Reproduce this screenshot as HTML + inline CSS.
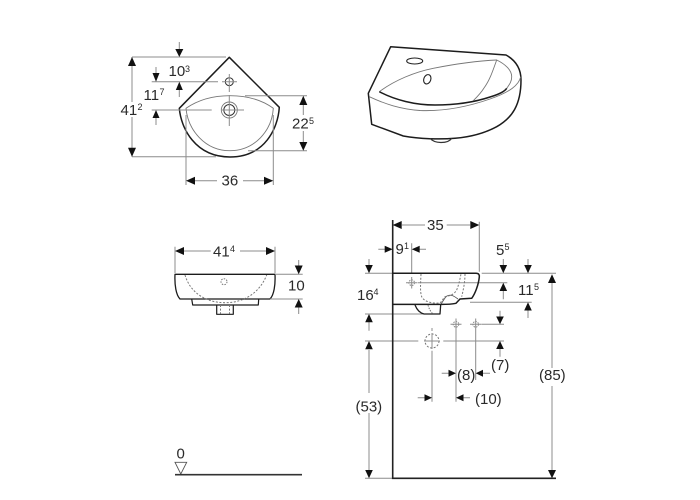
<!DOCTYPE html>
<html><head><meta charset="utf-8"><style>
html,body{margin:0;padding:0;background:#fff;width:700px;height:500px;overflow:hidden}
svg{display:block}
text{font-family:"Liberation Sans",sans-serif;font-size:15px;fill:#2a2a2a}
text.s{font-size:9px}
.d{stroke:#8c8c8c;stroke-width:1;fill:none}
.o{stroke:#1c1c1c;stroke-width:1.5;fill:none;stroke-linejoin:round}
.t{stroke:#777;stroke-width:.9;fill:none}
.h{stroke:#777;stroke-width:1;fill:none;stroke-dasharray:2 1.6}
.a{fill:#111;stroke:none}
</style></head><body>
<svg width="700" height="500" viewBox="0 0 700 500" xmlns="http://www.w3.org/2000/svg">
<!-- top view -->
<path class="o" d="M229.3 57.3L179.3 108.3C181 128 195 157 230 157C265 157 278 128 279.3 107.3Z"/>
<path class="t" d="M186 108.3C198 100 212 95.7 230 95.7C248 95.7 262 100 273.3 108.3C272 130 255 150.7 230 150.7C205 150.7 188 130 186 108.3Z"/>
<circle class="t" cx="229.3" cy="81.7" r="4" style="stroke:#333;stroke-width:1"/>
<circle class="t" cx="229.3" cy="110" r="8"/>
<circle class="t" cx="229.3" cy="110" r="5.5" style="stroke:#333;stroke-width:1"/>
<path class="d" d="M229.3 74V92M229.3 95V126M221.7 110H244M222 81.7H237M132 57H226M132 156.7H216M132 57V102M132 117V156.7M151.7 81.7H218M151.7 110H211.7M156 67V74M156 118V125M179.3 42V50M179.3 90V97M245 95.7H307M248 150.7H307M303.3 105V115M303.3 131V142M186 115V185M273.3 115V185M195 180.7H217M243 180.7H264"/>
<polygon class="a" points="179.3,57 175.3,49 183.3,49"/>
<polygon class="a" points="132,57 128,66 136,66"/><polygon class="a" points="132,156.7 128,147.7 136,147.7"/>
<polygon class="a" points="156,81.7 152.5,73 159.5,73"/><polygon class="a" points="179.3,81.7 175.8,90 182.8,90"/>
<polygon class="a" points="156,110 152.5,118 159.5,118"/>
<polygon class="a" points="303.3,95.7 299.3,105 307.3,105"/><polygon class="a" points="303.3,150.7 299.3,142 307.3,142"/>
<polygon class="a" points="186,180.7 195,176.7 195,184.7"/><polygon class="a" points="273.3,180.7 264,176.7 264,184.7"/>
<text x="168.5" y="76">10</text><text class="s" x="185" y="72">3</text>
<text x="143.5" y="100">11</text><text class="s" x="159.5" y="95">7</text>
<text x="120.5" y="115">41</text><text class="s" x="137.5" y="110">2</text>
<text x="292" y="128.5">22</text><text class="s" x="309" y="124">5</text>
<text x="221.5" y="185.7">36</text>
<!-- perspective -->
<path class="o" d="M390.7 46.7L506 55C515 60 521 68 521 80C521 105 512 118 496.7 126.7C485 133 470 137 455 138.3C440 139.5 420 139 403.3 136L371.7 124.3L368.3 93.3Z"/>
<path class="t" d="M369.3 96.7C385 104 400 109 420 110.5C445 111.5 470 106 490 99C510 92 519 85 520.7 76.7"/>
<path class="t" d="M379.3 91.7C395 80 415 72 433.3 68.3C455 64 475 61 496.7 60C505 64 511.7 70 511.7 76.7C511.7 82 509 85 506.7 88.3"/>
<path class="o" d="M379.3 91.7C395 100 415 105 435 105C455 105 475 102 490 97C500 94 505 91 506.7 88.3"/>
<path class="t" d="M496.7 60C493 70 490 80 484 88C481 93 477 97 473.3 100.7"/>
<ellipse cx="414.7" cy="61" rx="8" ry="3" fill="none" stroke="#222" stroke-width="1.1"/>
<ellipse cx="427.3" cy="79.3" rx="3.5" ry="4.8" fill="none" stroke="#222" stroke-width="1.1" transform="rotate(20 427.3 79.3)"/>
<path class="t" d="M430 138.3C433 142 437 142.5 441 142.5C446 142.5 450 141 451.7 138.3" style="stroke:#333;stroke-width:1.2"/>
<!-- front view -->
<path class="o" d="M175 274.3H275C275.5 285 274 295 270 299H180C176 295 174.5 285 175 274.3Z" style="stroke-width:1.3"/>
<path class="o" d="M191.7 299L192.7 305H258.3L258.7 299M216.7 305V314.3H233.3V305" style="stroke-width:1.2"/>
<path class="h" d="M185 275C190 292 205 302.7 225 302.7C245 302.7 260 292 266.7 275"/>
<path class="h" d="M220.5 305V314M229.5 305V314"/>
<circle class="h" cx="224" cy="281.7" r="3" style="stroke-dasharray:1.5 1.2"/>
<path class="d" d="M175 246.7V273M275 246.7V273M184 251H210.7M240 251H266M275 274.3H302.7M270 299H302.7M298.7 260V266M298.7 307V314"/>
<polygon class="a" points="175,251 184,247 184,255"/><polygon class="a" points="275,251 266,247 266,255"/>
<polygon class="a" points="298.7,274.3 294.7,265.5 302.7,265.5"/><polygon class="a" points="298.7,299 294.7,307.5 302.7,307.5"/>
<text x="213" y="256.7">41</text><text class="s" x="230" y="252">4</text>
<text x="288" y="290.7">10</text>
<!-- side view -->
<path class="d" d="M365 273.3H392.7M481.7 273.3H556M479.3 221.7V271.7M402 225H425M446.7 225H470M378.3 249.3H385M419 249.3H426M411.7 243.3V273M503.3 259V266M528 259V266M418 282.7H507.3M470 302.3H531.7M503.3 291V299.3M528 310V318M369 259V266M369 322V330.7M365 314H440M552 283V368M552 386V470M369 350V393M369 413V470M365 478.3H392.7M365 341H418.3M443.3 341H504M481.7 324.3H504M500 310.7V317M500 349V356.7M456 330V401.7M475.7 330V380M432 328V331M432 350.7V401.7M441.7 373.3H449M483 373.3H490M417.7 397.7H425M463 397.7H470"/>
<circle class="d" cx="411.7" cy="282.7" r="2.8" style="stroke-dasharray:1.5 1"/><path class="d" d="M411.7 277V288.5M406 282.7H417.5"/>
<circle class="d" cx="456" cy="324.3" r="2.8" style="stroke-dasharray:1.5 1"/><path class="d" d="M456 318.5V330M450.5 324.3H461.5"/>
<circle class="d" cx="475.7" cy="324.3" r="2.8" style="stroke-dasharray:1.5 1"/><path class="d" d="M475.7 318.5V330M470 324.3H481.5"/>
<circle class="h" cx="432" cy="341" r="7"/><path class="d" d="M424 341H440M432 333V349"/>
<path d="M392.7 220V478.3H556" fill="none" stroke="#222" stroke-width="1.6"/>
<path class="o" d="M392.7 273.3H476C479 273.3 479.5 275 479.3 277C478.5 285 475 294 471.7 298.3L460 299L456 303.3C450 304.5 445 304.4 440 304.4H392.7"/>
<path class="t" d="M458 299C454 296 451 294 447 296C445 297 444 300 441 304" style="stroke:#555"/>
<path class="o" d="M415 305C417 310 420 313 424 314H440L440.7 304.4" style="stroke-width:1.3"/>
<path class="h" d="M421 274C420.5 285 420 292 421.7 296.7C424 302 434 304 440 302.7C443 301 443 297 446 296.5C452 295.5 455 293 456.7 290C459 284 460 279 461 274"/>
<path class="h" d="M465 274C465 283 463 291 461.7 296.7"/>
<path class="h" d="M428 305C429 309 431 312 433 314" style="stroke-dasharray:1.5 1.2"/>
<polygon class="a" points="392.7,225 401.7,221 401.7,229"/><polygon class="a" points="479.3,225 470.3,221 470.3,229"/>
<polygon class="a" points="392.7,249.3 384.7,245.8 384.7,252.8"/><polygon class="a" points="411.7,249.3 419.7,245.8 419.7,252.8"/>
<polygon class="a" points="503.3,273.3 499.5,265 507.1,265"/><polygon class="a" points="528,273.3 524.2,265 531.8,265"/>
<polygon class="a" points="503.3,282.7 499.5,291 507.1,291"/><polygon class="a" points="528,302.3 524.2,310.5 531.8,310.5"/>
<polygon class="a" points="369,273.3 365.2,265 372.8,265"/><polygon class="a" points="369,314 365.2,322.2 372.8,322.2"/>
<polygon class="a" points="369,341 365.2,349.2 372.8,349.2"/><polygon class="a" points="369,478.3 365.2,470 372.8,470"/>
<polygon class="a" points="552,274.3 548,283 556,283"/><polygon class="a" points="552,478.3 548,470 556,470"/>
<polygon class="a" points="500,324.3 496.2,316.5 503.8,316.5"/><polygon class="a" points="500,341 496.2,349 503.8,349"/>
<polygon class="a" points="456,373.3 448.5,369.8 448.5,376.8"/><polygon class="a" points="475.7,373.3 483,369.8 483,376.8"/>
<polygon class="a" points="432,397.7 424.5,394.2 424.5,401.2"/><polygon class="a" points="456,397.7 463.5,394.2 463.5,401.2"/>
<text x="427" y="230">35</text>
<text x="395.5" y="254">9</text><text class="s" x="404" y="249">1</text>
<text x="496" y="255">5</text><text class="s" x="504.5" y="250">5</text>
<text x="518" y="295">11</text><text class="s" x="534" y="290">5</text>
<text x="357" y="300">16</text><text class="s" x="373.5" y="295">4</text>
<text x="539" y="380">(85)</text>
<text x="491" y="370">(7)</text>
<text x="457" y="380">(8)</text>
<text x="475" y="404">(10)</text>
<text x="355.5" y="411.7">(53)</text>
<!-- level -->
<text x="176.5" y="458.5">0</text>
<path d="M175 462.3H186.7L180.8 474Z" fill="none" stroke="#555" stroke-width=".9"/>
<path d="M175 474.7H302" stroke="#333" stroke-width="1.6" fill="none"/>
</svg>
</body></html>
